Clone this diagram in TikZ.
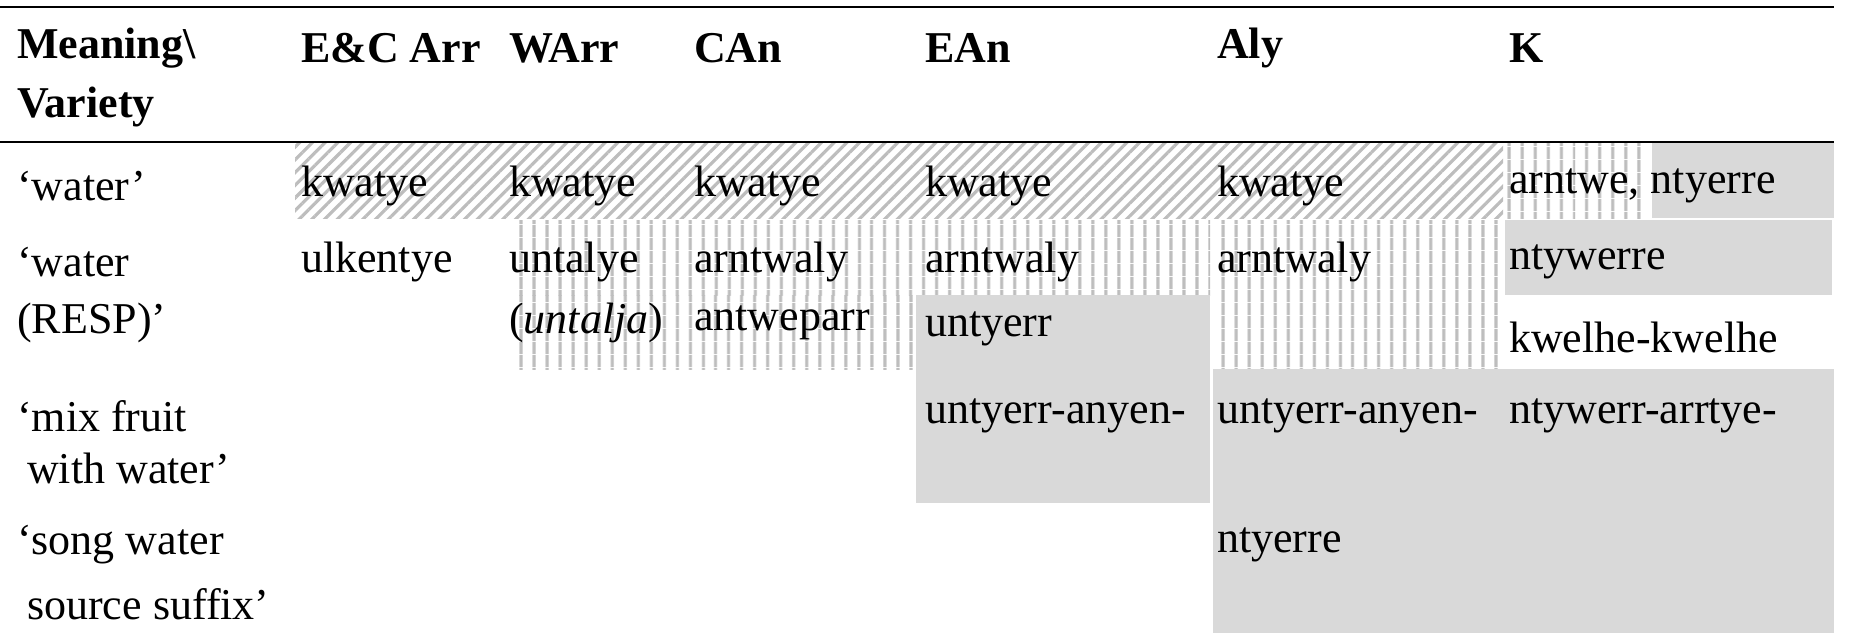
\documentclass[tikz,border=0pt]{standalone}
\usepackage{fontspec}
\setmainfont{Liberation Serif}
\usetikzlibrary{patterns.meta}
\definecolor{cellgray}{HTML}{D9D9D9}
\definecolor{hatchgray}{HTML}{BDBDBD}
\begin{document}
\begin{tikzpicture}[x=1pt,y=-1pt,
  txt/.style={anchor=west,inner sep=0pt,font=\fontsize{44}{58}\selectfont},
  hd/.style={txt,font=\fontsize{44}{58}\selectfont\bfseries},
  diag/.style={pattern={Lines[angle=45,distance=9pt,line width=3.2pt]},pattern color=hatchgray},
  vert/.style={pattern={Lines[angle=90,distance=13pt,line width=3.5pt]},pattern color=hatchgray},
  grayfill/.style={fill=cellgray},
  rule/.style={line width=2.2pt}]
\useasboundingbox (0,0) rectangle (1858,633);
% backgrounds
\fill[diag] (295,142) rectangle (1503,218);
\fill[vert] (1503,142) rectangle (1649,218);
\fill[grayfill] (1652,142) rectangle (1834,218);
\fill[vert] (515,220) rectangle (1210,295);
\fill[vert] (515,295) rectangle (916,369);
\fill[grayfill] (916,295) rectangle (1210,503);
\fill[vert] (1213,220) rectangle (1500,369);
\fill[grayfill] (1505,220) rectangle (1832,295);
\fill[grayfill] (1213,369) rectangle (1834,633);
% rules
\draw[rule] (0,7) coordinate (tl) -- (1834,7) coordinate (tr);
\draw[rule] (0,142) coordinate (ml) -- (1834,142) coordinate (mr);
% header
\node[hd] (h0) at (17,48) {Meaning\textbackslash};
\node[hd] (h0b) at (17,107) {Variety};
\node[hd] (h1) at (301,48) {E\&C Arr};
\node[hd] (h2) at (509,48) {WArr};
\node[hd] (h3) at (694,48) {CAn};
\node[hd] (h4) at (925,48) {EAn};
\node[hd] (h5) at (1217,48) {Aly};
\node[hd] (h6) at (1509,48) {K};
% row 1
\node[txt] (r1a) at (17,186) {‘water’};
\node[txt] (r1b) at (301,186) {kwatye};
\node[txt] (r1c) at (509,186) {kwatye};
\node[txt] (r1d) at (694,186) {kwatye};
\node[txt] (r1e) at (925,186) {kwatye};
\node[txt] (r1f) at (1217,186) {kwatye};
\node[txt] (r1g) at (1509,186) {arntwe, ntyerre};
% row 2
\node[txt] (r2a) at (17,262) {‘water};
\node[txt] (r2a2) at (17,323) {(RESP)’};
\node[txt] (r2b) at (301,262) {ulkentye};
\node[txt] (r2c) at (509,262) {untalye};
\node[txt] (r2c2) at (509,323) {(\textit{untalja})};
\node[txt] (r2d) at (694,262) {arntwaly};
\node[txt] (r2d2) at (694,323) {antweparr};
\node[txt] (r2e) at (925,262) {arntwaly};
\node[txt] (r2e2) at (925,329) {untyerr};
\node[txt] (r2f) at (1217,262) {arntwaly};
\node[txt] (r2g) at (1509,262) {ntywerre};
\node[txt] (r2g2) at (1509,337) {kwelhe-kwelhe};
% row 3
\node[txt] (r3a) at (17,416) {‘mix fruit};
\node[txt] (r3a2) at (27,468) {with water’};
\node[txt] (r3e) at (925,416) {untyerr-anyen-};
\node[txt] (r3f) at (1217,416) {untyerr-anyen-};
\node[txt] (r3g) at (1509,416) {ntywerr-arrtye-};
% row 4
\node[txt] (r4a) at (17,545) {‘song water};
\node[txt] (r4a2) at (27,604) {source suffix’};
\node[txt] (r4f) at (1217,545) {ntyerre};
\end{tikzpicture}
\end{document}
